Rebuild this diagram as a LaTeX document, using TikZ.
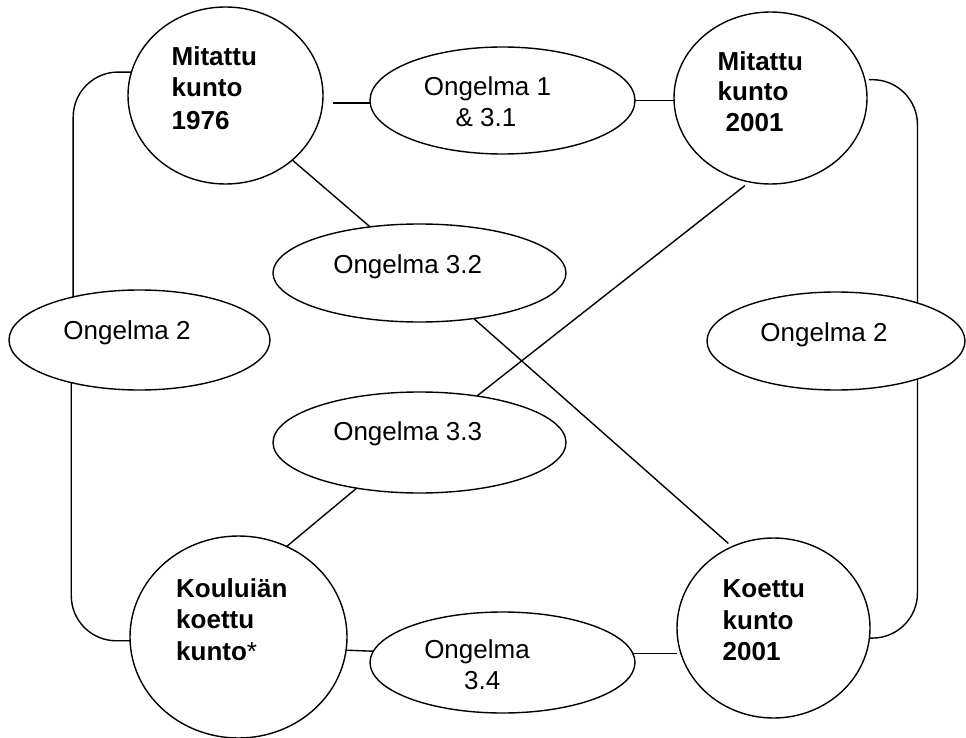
\documentclass[tikz,border=0pt]{standalone}
\usepackage{fontspec}
\setmainfont{Liberation Sans}
\usetikzlibrary{shapes.geometric}

\begin{document}
\begin{tikzpicture}[x=1pt, y=-1pt, line width=1.4pt,
	ring/.style={draw, ellipse, inner sep=0pt, outer sep=0pt},
	lab/.style={font=\fontsize{26}{31}\selectfont, inner sep=0pt, anchor=base},
	blab/.style={font=\fontsize{26}{31}\selectfont\bfseries, inner sep=0pt, anchor=base west}]
	\useasboundingbox (0,0) rectangle (966,738) ;
		\node (c76)[ring, minimum width=195pt, minimum height=177pt] at (225.5, 95.5) {} ;
		\node (c01)[ring, minimum width=193pt, minimum height=172pt] at (770.5, 98) {} ;
		\node (cku)[ring, minimum width=217pt, minimum height=202pt] at (238.5, 637) {} ;
		\node (cko)[ring, minimum width=193pt, minimum height=180pt] at (773.5, 628) {} ;
		\node (o1)[ring, minimum width=265pt, minimum height=107pt] at (502.5, 100.5) {} ;
		\node (o32)[ring, minimum width=293pt, minimum height=98pt] at (419.5, 273) {} ;
		\node (o33)[ring, minimum width=293pt, minimum height=101pt] at (419.5, 442.5) {} ;
		\node (o34)[ring, minimum width=265pt, minimum height=101pt] at (502.5, 662.5) {} ;
		\node (o2l)[ring, minimum width=261pt, minimum height=100pt] at (139.5, 340) {} ;
		\node (o2r)[ring, minimum width=258pt, minimum height=98pt] at (836, 341) {} ;
		\node (t76a)[blab] at (171, 66) {Mitattu} ;
		\node (t76b)[blab] at (171, 97) {kunto} ;
		\node (t76c)[blab] at (171, 129.5) {1976} ;
		\node (t01a)[blab] at (717, 71) {Mitattu} ;
		\node (t01b)[blab] at (717, 101) {kunto} ;
		\node (t01c)[blab] at (725, 131.5) {2001} ;
		\node (tkua)[blab] at (175.5, 597.3) {Kouluiän} ;
		\node (tkub)[blab] at (175.5, 628) {koettu} ;
		\node (tkuc)[blab] at (175.5, 660) {kunto{\mdseries*}} ;
		\node (tkoa)[blab] at (722, 597.5) {Koettu} ;
		\node (tkob)[blab] at (722, 629) {kunto} ;
		\node (tkoc)[blab] at (722, 660.5) {2001} ;
		\node (to1a)[lab] at (487.5, 95.7) {Ongelma 1} ;
		\node (to1b)[lab] at (486, 126.7) {\& 3.1} ;
		\node (to32)[lab] at (407.7, 273.3) {Ongelma 3.2} ;
		\node (to33)[lab] at (407.7, 440.7) {Ongelma 3.3} ;
		\node (to2l)[lab] at (127, 339.3) {Ongelma 2} ;
		\node (to2r)[lab] at (824, 341) {Ongelma 2} ;
		\node (to34a)[lab] at (477, 658.3) {Ongelma} ;
		\node (to34b)[lab] at (482.3, 689.3) {3.4} ;
	\draw[rounded corners=45pt] (c76.166) -| (o2l.147.5) ;
	\draw[rounded corners=45pt] (o2l.212.5) |- (cku.182) ;
	\draw[rounded corners=45pt, shorten <=4pt] (c01.11) -| (o2r.25.7) ;
	\draw[rounded corners=45pt] (o2r.-25.7) |- (cko.-6) ;
	\draw[shorten <=10pt] (c76.east |- o1.181) -- (o1.181) ;
	\draw (o1.east) -- (o1.east -| c01.west) ;
	\draw (cku.-7.4) -- (o34.175) ;
	\draw (o34.4.5) -- (o34.4.5 -| cko.west) ;
	\draw (c76.-44.1) -- (o32.137.7) ;
	\draw[shorten >=5pt] (o32.-40.2) -- (cko.117.9) ;
	\draw[shorten <=6pt] (c01.-104.5) -- (o33.39.1) ;
	\draw (o33.216.5) -- (cku.62.2) ;
\end{tikzpicture}
\end{document}
